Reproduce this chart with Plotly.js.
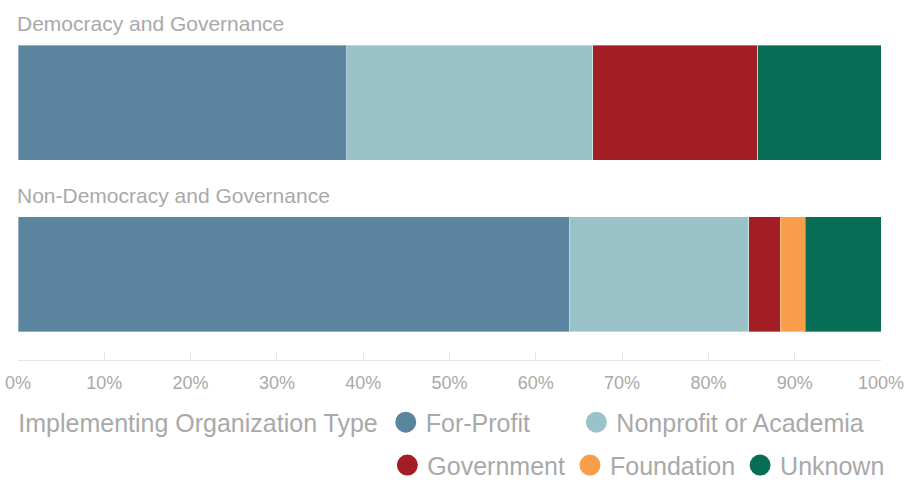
<!DOCTYPE html>
<html>
<head>
<meta charset="utf-8">
<script src="https://cdn.plot.ly/plotly-3.0.1.min.js"></script>
<style>
  html, body { margin: 0; padding: 0; background: #fff; }
  #chart { width: 914px; height: 480px; }
</style>
</head>
<body>
<div id="chart"></div>
<script>
// categories (top to bottom)
var sectors = ["Democracy and Governance", "Non-Democracy and Governance"];

// share of awards by implementing organization type, in percent
var orgTypes = ["For-Profit", "Nonprofit or Academia", "Government", "Foundation", "Unknown"];
var forProfit = [38.1, 63.9];
var nonprofit = [28.5, 20.8];
var government = [19.1, 3.6];
var foundation = [0, 2.9];
var unknown = [14.3, 8.8];

var colors = ["#5b849e", "#9ac3c9", "#a21e24", "#f89d4a", "#076d55"];
var series = [forProfit, nonprofit, government, foundation, unknown];
// which legend box each entry goes in (first row is split in two boxes)
var legendBox = ["legend", "legend3", "legend2", "legend2", "legend2"];
var grey = "#a9a9a9";
var font = "Liberation Sans, Arial, sans-serif";

var data = [];

// stacked bars
series.forEach(function (vals, i) {
  data.push({
    type: "bar",
    orientation: "h",
    x: vals,
    y: sectors,
    name: orgTypes[i],
    showlegend: false,
    hoverinfo: "x+name",
    marker: { color: colors[i], line: { color: "rgba(255,255,255,0.35)", width: 1 } }
  });
});

// legend entries with round markers
orgTypes.forEach(function (name, i) {
  data.push({
    type: "scatter",
    mode: "markers",
    x: [null],
    y: [null],
    name: name,
    legend: legendBox[i],
    marker: { color: colors[i], size: 16, symbol: "circle", line: { color: colors[i], width: 5 } },
    hoverinfo: "skip"
  });
});

// category labels sit above each bar
var annotations = sectors.map(function (s) {
  return {
    text: s,
    xref: "paper", x: 0, xanchor: "left", xshift: -3,
    yref: "y", y: s, yanchor: "middle", yshift: 79,
    showarrow: false,
    font: { family: font, size: 21, color: grey }
  };
});

var legendFont = { family: font, size: 25, color: grey };

var layout = {
  width: 914,
  height: 480,
  margin: { l: 18, r: 33, t: 17, b: 120, autoexpand: false },
  paper_bgcolor: "#fff",
  plot_bgcolor: "#fff",
  barmode: "stack",
  bargap: 0.327,
  font: { family: font, color: grey },
  xaxis: {
    range: [0, 100],
    tickvals: [0, 10, 20, 30, 40, 50, 60, 70, 80, 90, 100],
    ticktext: ["0%", "10%", "20%", "30%", "40%", "50%", "60%", "70%", "80%", "90%", "100%"],
    showgrid: false,
    zeroline: false,
    showline: true,
    linecolor: "#e6e6e6",
    linewidth: 1,
    ticks: "inside",
    ticklen: 8,
    tickcolor: "#e6e6e6",
    tickfont: { family: font, size: 18, color: grey },
    ticklabelstandoff: 6,
    fixedrange: true
  },
  yaxis: {
    type: "category",
    categoryorder: "array",
    categoryarray: sectors,
    range: [1.5, -0.5],
    showticklabels: false,
    showgrid: false,
    zeroline: false,
    fixedrange: true
  },
  annotations: annotations,
  legend: {
    orientation: "h",
    traceorder: "normal",
    x: -0.002, xanchor: "left",
    y: -0.115, yanchor: "top",
    title: { text: "Implementing Organization Type", side: "left", font: legendFont },
    font: legendFont,
    bgcolor: "rgba(0,0,0,0)"
  },
  legend3: {
    orientation: "h",
    traceorder: "normal",
    x: 0.647, xanchor: "left",
    y: -0.115, yanchor: "top",
    font: legendFont,
    bgcolor: "rgba(0,0,0,0)"
  },
  legend2: {
    orientation: "h",
    traceorder: "normal",
    x: 0.428, xanchor: "left",
    y: -0.24, yanchor: "top",
    font: legendFont,
    bgcolor: "rgba(0,0,0,0)"
  }
};

Plotly.newPlot("chart", data, layout, { displayModeBar: false, staticPlot: true });
</script>
</body>
</html>
